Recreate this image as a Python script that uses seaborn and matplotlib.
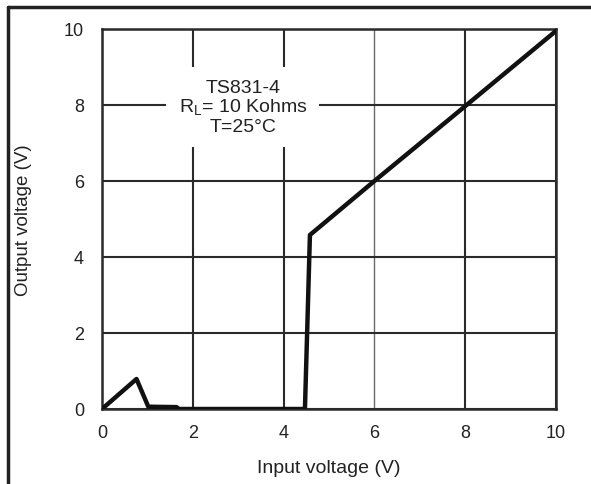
import matplotlib
matplotlib.use("Agg")
import matplotlib.pyplot as plt
from matplotlib.lines import Line2D
import seaborn as sns
import pandas as pd

# Transfer characteristic: output vs input voltage
input_v = [0.0, 0.76, 1.02, 1.64, 1.70, 4.47, 4.58, 6.0, 8.0, 10.0]
output_v = [0.0, 0.79, 0.06, 0.05, 0.0, 0.0, 4.58, 6.0, 7.97, 9.95]
x_ticks = [0, 2, 4, 6, 8, 10]
y_ticks = [0, 2, 4, 6, 8, 10]

sns.set_theme(style="white")
plt.rcParams["font.family"] = ["Liberation Sans", "DejaVu Sans"]
plt.rcParams["mathtext.fontset"] = "custom"
plt.rcParams["mathtext.rm"] = "Liberation Sans"

df = pd.DataFrame({"Input voltage (V)": input_v, "Output voltage (V)": output_v})

W, H = 591, 485
fig = plt.figure(figsize=(W / 100, H / 100), dpi=100)
ax = fig.add_axes([102 / W, 1 - 410 / H, 454 / W, 380 / H])

sns.lineplot(data=df, x="Input voltage (V)", y="Output voltage (V)", sort=False,
             color="#111111", linewidth=3.2, ax=ax, zorder=5)

ax.set_xlim(0, 10)
ax.set_ylim(0, 10)
ax.set_xticks(x_ticks)
ax.set_yticks(y_ticks)
ax.set_xticklabels([str(t) for t in x_ticks])
ax.set_yticklabels([str(t) for t in y_ticks])
ax.tick_params(axis="both", length=0, labelsize=13, colors="#222222")
ax.tick_params(axis="x", pad=11)
ax.tick_params(axis="y", pad=13)

ax.grid(True, color="#2a2a2a", linewidth=1.5)
for i, gl in enumerate(ax.xaxis.get_gridlines()):
    if x_ticks[i] == 6:
        gl.set_color("#6a6a6a")
        gl.set_linewidth(1.0)

for s in ax.spines.values():
    s.set_visible(True)
    s.set_color("#2a2a2a")
    s.set_linewidth(1.8)

ax.set_xlabel("Input voltage (V)", fontsize=14, color="#222222", labelpad=13)
ax.set_ylabel("Output voltage (V)", fontsize=13.5, color="#222222", labelpad=23)

ax.text(3.1, 7.95, "TS831-4\nR$_\\mathrm{L}$= 10 Kohms\nT=25°C", ha="center", va="center",
        fontsize=14, color="#222222", linespacing=1.05, zorder=4,
        bbox=dict(facecolor="white", edgecolor="none", pad=9))

# Outer frame (left and top edges)
fig.add_artist(Line2D([8 / W, 8 / W], [0, 1 - 8 / H], transform=fig.transFigure,
                      color="#222222", linewidth=2.5))
fig.add_artist(Line2D([8 / W, 1], [1 - 8 / H, 1 - 8 / H], transform=fig.transFigure,
                      color="#222222", linewidth=2.5))

fig.savefig("out.png", dpi=100)
